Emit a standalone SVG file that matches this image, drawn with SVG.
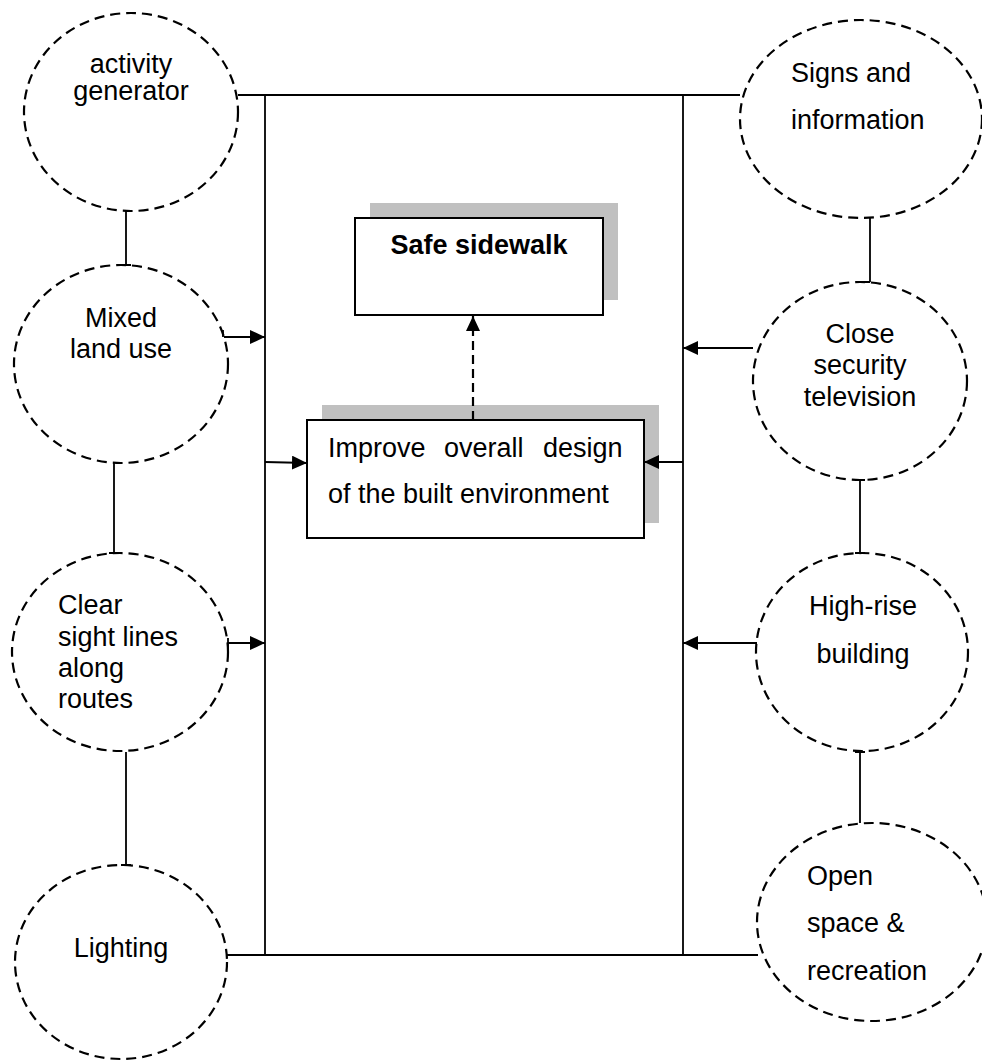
<svg xmlns="http://www.w3.org/2000/svg" width="982" height="1061" viewBox="0 0 982 1061">
<defs>
<marker id="ah" markerUnits="userSpaceOnUse" markerWidth="15" markerHeight="14" refX="15" refY="7" orient="auto"><path d="M0,0 L15,7 L0,14 Z" fill="#000"/></marker>
</defs>
<style>
.c{fill:#fff;stroke:#000;stroke-width:2.2;stroke-dasharray:10 6}
.t{font-family:"Liberation Sans",Arial,sans-serif;font-size:27px;fill:#000}
.m{text-anchor:middle}
.b{font-weight:bold}
.l{fill:none;stroke:#000;stroke-width:1.8}
.d{fill:none;stroke:#000;stroke-width:2.2;stroke-dasharray:9 5}
.box{fill:#fff;stroke:#000;stroke-width:2}
.sh{fill:#c0c0c0}
</style>
<rect width="982" height="1061" fill="#fff"/>

<g id="activity-generator">
<ellipse class="c" cx="131" cy="112" rx="107" ry="99"/>
<text class="t m" x="131" y="73">activity</text>
<text class="t m" x="131" y="100">generator</text>
</g>
<g id="mixed-land-use">
<ellipse class="c" cx="121" cy="364" rx="107" ry="99"/>
<text class="t m" x="121" y="327">Mixed</text>
<text class="t m" x="121" y="358">land use</text>
</g>
<g id="clear-sight-lines">
<ellipse class="c" cx="120" cy="652" rx="108" ry="99"/>
<text class="t" x="58" y="614">Clear</text>
<text class="t" x="58" y="646">sight lines</text>
<text class="t" x="58" y="677">along</text>
<text class="t" x="58" y="708">routes</text>
</g>
<g id="lighting">
<ellipse class="c" cx="121" cy="962" rx="106" ry="97"/>
<text class="t m" x="121" y="957">Lighting</text>
</g>
<g id="signs-and-information">
<ellipse class="c" cx="861" cy="119" rx="121" ry="99"/>
<text class="t" x="791" y="82">Signs and</text>
<text class="t" x="791" y="129">information</text>
</g>
<g id="close-security-television">
<ellipse class="c" cx="860" cy="381" rx="107" ry="99"/>
<text class="t m" x="860" y="343">Close</text>
<text class="t m" x="860" y="374">security</text>
<text class="t m" x="860" y="406">television</text>
</g>
<g id="high-rise-building">
<ellipse class="c" cx="862" cy="652" rx="106" ry="99"/>
<text class="t m" x="863" y="615">High-rise</text>
<text class="t m" x="863" y="663">building</text>
</g>
<g id="open-space-recreation">
<ellipse class="c" cx="872" cy="922" rx="115" ry="99"/>
<text class="t" x="807" y="885">Open</text>
<text class="t" x="807" y="932">space &amp;</text>
<text class="t" x="807" y="980">recreation</text>
</g>
<g id="safe-sidewalk">
<rect class="sh" x="370" y="203" width="248" height="97"/>
<rect class="box" x="355" y="218" width="248" height="97"/>
<text class="t m b" x="479" y="254">Safe sidewalk</text>
</g>
<g id="improve-design">
<rect class="sh" x="322" y="405" width="337" height="118"/>
<rect class="box" x="307" y="420" width="337" height="118"/>
<text class="t" y="457"><tspan x="328">Improve</tspan><tspan x="444">overall</tspan><tspan x="543">design</tspan></text>
<text class="t" x="328" y="503">of the built environment</text>
</g>

<g id="connectors">
<path class="l" d="M238,95 H740"/>
<path class="l" d="M227,955 H758"/>
<path class="l" d="M265,95 V955"/>
<path class="l" d="M683,95 V955"/>
<path class="l" d="M126,211 V265 M121,265 H131"/>
<path class="l" d="M114,463 V553 M109,553 H119"/>
<path class="l" d="M126,752 V865 M121,865 H131"/>
<path class="l" d="M870,218 V282 M862,282 H870"/>
<path class="l" d="M860,480 V553 M855,480 H865 M855,553 H865"/>
<path class="l" d="M860,752 V823 M855,752 H865"/>
<path class="l" d="M224,337 H265" marker-end="url(#ah)"/>
<path class="l" d="M223,330 V337"/>
<path class="l" d="M228,643 H265" marker-end="url(#ah)"/>
<path class="l" d="M228,638 V648"/>
<path class="l" d="M265,462 L307,463" marker-end="url(#ah)"/>
<path class="l" d="M753,348 H683" marker-end="url(#ah)"/>
<path class="l" d="M757,643 H683" marker-end="url(#ah)"/>
<path class="l" d="M683,462 H644" marker-end="url(#ah)"/>
<path class="d" d="M473,420 V316" marker-end="url(#ah)"/>
</g>
</svg>
